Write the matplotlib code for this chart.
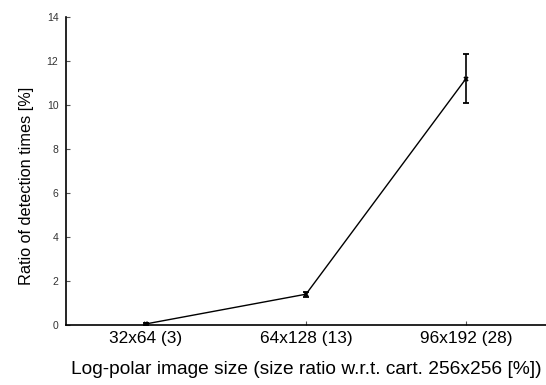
import matplotlib
matplotlib.use("Agg")
import matplotlib.pyplot as plt

categories = ["32x64 (3)", "64x128 (13)", "96x192 (28)"]
ratios = [0.05, 1.4, 11.2]
errors = [0.03, 0.12, 1.1]
yticks = [0, 2, 4, 6, 8, 10, 12, 14]

plt.rcParams['font.family'] = ['Liberation Sans', 'DejaVu Sans']

fig = plt.figure(figsize=(5.46, 3.85), dpi=100)
ax = fig.add_axes([66/546, 60/385, 1 - 66/546, (325-17)/385])

x = list(range(1, len(categories) + 1))
ax.errorbar(x, ratios, yerr=errors, color='black', lw=1.0, marker='x', ms=3.5,
            mew=1.3, capsize=2.3, elinewidth=1.2, capthick=1.0)

ax.set_xlim(0.5, 3.5)
ax.set_ylim(0, 14)
ax.set_xticks(x)
ax.set_xticklabels(categories, fontsize=12.4)
ax.set_yticks(yticks)
ax.set_yticklabels([str(t) for t in yticks], fontsize=7.5, color='#333333')
ax.tick_params(direction='in', length=3, width=0.8, color='#555555')
ax.tick_params(axis='x', pad=4)
ax.tick_params(axis='y', pad=5.5)
ax.spines['top'].set_visible(False)
ax.spines['right'].set_visible(False)
for s in ['left', 'bottom']:
    ax.spines[s].set_linewidth(1.2)

ax.set_xlabel("Log-polar image size (size ratio w.r.t. cart. 256x256 [%])", fontsize=13.8, labelpad=11)
ax.set_ylabel("Ratio of detection times [%]", fontsize=11.7)
ax.yaxis.set_label_coords(-0.066, 0.451)

fig.savefig("out.png", dpi=100)
